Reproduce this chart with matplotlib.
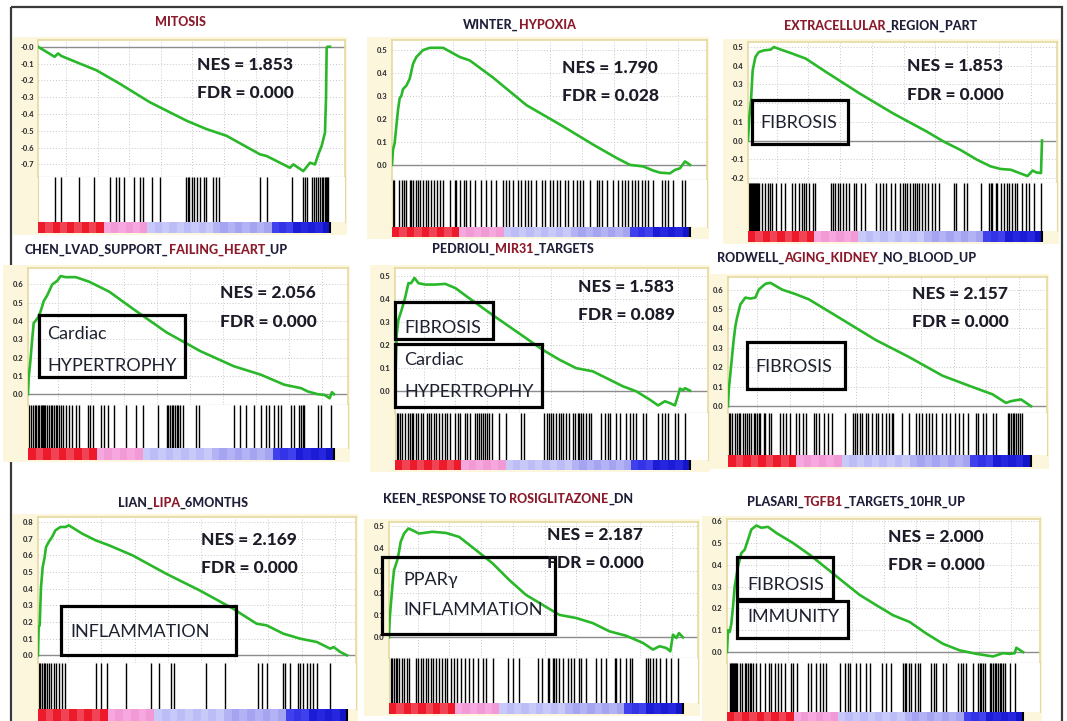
import numpy as np
import matplotlib.pyplot as plt
from matplotlib.colors import ListedColormap
from matplotlib.patches import Rectangle

plt.rcParams['font.family'] = ['Lato', 'DejaVu Sans']

W, H = 1067, 721
fig = plt.figure(figsize=(W / 100, H / 100), dpi=100)

# ---- data: running enrichment score, hit ranks (ranked list length n per panel)
mitosis_n = 875
mitosis_x = [0, 50, 60, 70, 125, 175, 245, 335, 445, 505, 565, 665, 685, 755, 765,
             795, 815, 830, 840, 850, 860, 863, 865, 867, 875]
mitosis_es = [0, -0.06, -0.04, -0.055, -0.10, -0.14, -0.22, -0.33, -0.44, -0.49, -0.53,
              -0.64, -0.65, -0.72, -0.70, -0.74, -0.69, -0.70, -0.64, -0.59, -0.51, -0.31,
              -0.01, 0.0, 0.0]
mitosis_hits = [50, 68, 122, 167, 215, 235, 243, 257, 287, 305, 315, 342, 365, 443, 448,
                453, 460, 467, 475, 485, 497, 503, 525, 533, 542, 665, 685, 760, 795, 800,
                807, 820, 827, 833, 840, 845, 850, 855, 860, 863, 867, 870]

hypoxia_n = 893
hypoxia_x = [0, 3, 8, 18, 23, 28, 33, 43, 53, 63, 73, 93, 113, 153, 203, 233, 303, 403,
             503, 603, 673, 713, 753, 783, 803, 833, 848, 863, 878, 893]
hypoxia_es = [0, 0.066, 0.095, 0.24, 0.29, 0.30, 0.33, 0.345, 0.375, 0.44, 0.47, 0.50,
              0.51, 0.51, 0.47, 0.455, 0.38, 0.26, 0.176, 0.088, 0.03, 0.0, -0.007,
              -0.025, -0.034, -0.037, -0.022, -0.015, 0.015, 0.0]
hypoxia_hits = [3, 6, 21, 31, 36, 43, 53, 58, 63, 71, 78, 85, 93, 101, 108, 118, 125, 135,
                145, 153, 173, 188, 193, 203, 215, 223, 233, 248, 268, 283, 298, 311, 333,
                343, 350, 363, 378, 386, 398, 408, 418, 433, 448, 458, 473, 483, 493, 503,
                518, 528, 543, 553, 563, 573, 593, 613, 621, 628, 643, 663, 678, 688, 698,
                708, 718, 728, 738, 748, 758, 768, 783, 808, 818, 828, 843, 868, 878]

ecm_n = 875
ecm_x = [0, 4, 9, 14, 22, 32, 47, 67, 77, 92, 132, 172, 232, 332, 432, 532, 582, 632,
         682, 722, 752, 782, 832, 847, 857, 872, 875]
ecm_es = [0, 0.128, 0.216, 0.376, 0.447, 0.473, 0.482, 0.486, 0.50, 0.49, 0.465, 0.438,
          0.367, 0.252, 0.145, 0.048, -0.005, -0.05, -0.103, -0.138, -0.152, -0.156,
          -0.19, -0.16, -0.17, -0.174, 0.0]
ecm_hits = [0, 3, 6, 9, 12, 15, 18, 21, 24, 27, 30, 33, 42, 50, 60, 65, 72, 82, 97, 110,
            132, 140, 152, 160, 167, 172, 182, 192, 200, 247, 254, 260, 267, 274, 282, 292,
            302, 314, 322, 337, 347, 382, 392, 402, 412, 427, 437, 452, 462, 467, 472, 482,
            490, 497, 504, 510, 517, 527, 537, 547, 557, 567, 612, 620, 642, 652, 692, 717,
            722, 727, 737, 742, 752, 762, 772, 777, 787, 794, 802, 814, 827, 837, 852, 872]

chen_n = 910
chen_x = [0, 2, 7, 12, 17, 22, 30, 37, 47, 57, 72, 87, 97, 112, 142, 182, 242, 312, 412,
          512, 612, 692, 762, 812, 832, 862, 882, 897, 904, 910]
chen_es = [0, 0.089, 0.18, 0.29, 0.39, 0.40, 0.42, 0.45, 0.51, 0.54, 0.60, 0.62, 0.646,
           0.64, 0.64, 0.615, 0.56, 0.467, 0.338, 0.236, 0.153, 0.107, 0.052, 0.033, 0.015,
           0.0, -0.004, -0.022, 0.011, 0.0]
chen_hits = [4, 10, 15, 20, 24, 30, 34, 39, 42, 45, 49, 52, 57, 62, 67, 72, 77, 82, 87, 92,
             97, 104, 112, 122, 132, 142, 152, 177, 184, 192, 217, 227, 237, 257, 292, 322,
             342, 387, 412, 417, 422, 427, 432, 437, 442, 447, 452, 462, 500, 510, 612, 630,
             647, 672, 692, 707, 717, 732, 742, 752, 782, 792, 807, 812, 817, 822, 862, 872,
             902]

mir31_n = 880
mir31_x = [0, 2, 5, 10, 20, 30, 40, 48, 58, 70, 90, 120, 150, 180, 220, 290, 390, 440, 490,
           540, 590, 640, 680, 720, 760, 785, 805, 820, 835, 845, 850, 860, 865, 880]
mir31_es = [0, 0.10, 0.246, 0.31, 0.355, 0.406, 0.47, 0.47, 0.493, 0.47, 0.464, 0.464,
            0.467, 0.449, 0.406, 0.333, 0.232, 0.181, 0.138, 0.101, 0.087, 0.051, 0.022,
            0.0, -0.036, -0.061, -0.043, -0.051, -0.061, -0.014, 0.012, 0.005, 0.014, 0.003]
mir31_hits = [5, 10, 15, 22, 30, 38, 45, 50, 55, 62, 70, 78, 85, 95, 102, 108, 115, 122,
              130, 140, 148, 155, 165, 180, 188, 195, 208, 215, 225, 240, 245, 250, 258, 262,
              268, 275, 280, 290, 310, 330, 375, 385, 445, 453, 460, 465, 470, 480, 488, 495,
              502, 510, 520, 530, 538, 545, 550, 555, 560, 570, 578, 585, 615, 625, 635, 640,
              660, 670, 690, 700, 710, 720, 740, 750, 785, 795, 805, 815, 835, 845, 865]

kidney_n = 907
kidney_x = [0, 2, 7, 12, 17, 22, 27, 37, 52, 67, 82, 92, 112, 127, 142, 162, 202, 242, 342,
            442, 542, 642, 722, 792, 832, 847, 877, 907]
kidney_es = [0, 0.079, 0.166, 0.254, 0.341, 0.411, 0.455, 0.524, 0.559, 0.554, 0.559, 0.60,
             0.63, 0.635, 0.62, 0.60, 0.577, 0.55, 0.446, 0.341, 0.253, 0.157, 0.105, 0.061,
             0.017, 0.026, 0.035, 0.0]
kidney_hits = [2, 7, 12, 20, 27, 32, 37, 44, 50, 57, 64, 70, 77, 82, 87, 92, 97, 107, 112,
               122, 130, 157, 164, 174, 187, 204, 214, 224, 234, 257, 264, 272, 287, 300, 312,
               350, 374, 380, 387, 394, 402, 412, 420, 430, 442, 450, 462, 474, 482, 490, 495,
               522, 542, 562, 572, 582, 592, 602, 610, 622, 642, 652, 664, 680, 692, 702, 717,
               742, 747, 762, 772, 792, 802, 837, 842, 847, 852, 857, 862, 867, 874, 880]

lipa_n = 922
lipa_x = [0, 2, 5, 9, 14, 19, 24, 32, 42, 52, 67, 82, 92, 132, 172, 212, 282, 382, 482, 582,
          652, 682, 732, 782, 832, 872, 882, 902, 922]
lipa_es = [0, 0.17, 0.18, 0.41, 0.53, 0.58, 0.65, 0.68, 0.71, 0.75, 0.77, 0.77, 0.78, 0.73,
           0.69, 0.66, 0.60, 0.49, 0.39, 0.28, 0.19, 0.18, 0.13, 0.10, 0.08, 0.04, 0.05,
           0.02, 0.0]
lipa_hits = [2, 7, 12, 17, 22, 27, 32, 40, 47, 54, 62, 72, 82, 172, 187, 207, 262, 337,
             362, 397, 407, 502, 557, 657, 667, 682, 732, 737, 752, 775, 782, 792, 802, 812,
             822, 832, 872]

rosi_n = 880
rosi_x = [0, 2, 5, 10, 15, 20, 25, 30, 35, 45, 58, 70, 90, 130, 170, 210, 260, 310, 360,
          410, 460, 510, 560, 610, 660, 710, 760, 790, 810, 830, 842, 850, 860, 868, 880]
rosi_es = [0, 0.079, 0.139, 0.228, 0.303, 0.325, 0.348, 0.385, 0.43, 0.467, 0.49, 0.482,
           0.467, 0.475, 0.47, 0.452, 0.393, 0.333, 0.258, 0.191, 0.146, 0.101, 0.087,
           0.064, 0.027, 0.007, -0.025, -0.055, -0.04, -0.048, -0.063, 0.012, -0.003,
           0.019, 0.0]
rosi_hits = [5, 10, 15, 20, 25, 30, 38, 45, 53, 60, 80, 88, 95, 102, 110, 118, 125, 132,
             142, 150, 160, 168, 175, 185, 195, 205, 215, 228, 240, 250, 265, 280, 290, 310,
             355, 370, 390, 445, 458, 475, 480, 490, 495, 500, 510, 520, 535, 545, 555, 570,
             575, 590, 620, 635, 650, 675, 680, 690, 710, 720, 728, 770, 775, 780, 790, 800,
             810, 830, 845, 865]

tgfb_n = 888
tgfb_x = [0, 3, 8, 13, 18, 23, 33, 43, 53, 63, 73, 88, 103, 123, 148, 198, 248, 298, 348,
          398, 448, 498, 548, 598, 648, 698, 748, 798, 828, 848, 863, 868, 888]
tgfb_es = [0, 0.10, 0.092, 0.13, 0.208, 0.30, 0.392, 0.454, 0.469, 0.515, 0.562, 0.58, 0.57,
           0.574, 0.546, 0.50, 0.446, 0.385, 0.323, 0.262, 0.215, 0.169, 0.138, 0.085,
           0.038, 0.008, -0.008, -0.02, -0.005, -0.008, -0.005, 0.02, 0.0]
tgfb_hits = [8, 11, 14, 17, 20, 23, 26, 29, 38, 46, 53, 58, 63, 68, 73, 78, 88, 100, 113,
             126, 133, 143, 153, 163, 173, 193, 198, 210, 243, 253, 266, 278, 288, 298, 338,
             353, 363, 368, 388, 398, 418, 428, 466, 478, 493, 528, 533, 538, 546, 553, 563,
             573, 578, 613, 620, 628, 648, 658, 693, 703, 708, 716, 738, 753, 758, 763, 768,
             773, 788, 793, 798, 803, 808, 813, 818, 823, 828, 833, 848, 863]

dark = '#1f1f3a'
red = '#8b1a2b'
titles = [
    [('MITOSIS', red)],
    [('WINTER_', dark), ('HYPOXIA', red)],
    [('EXTRACELLULAR', red), ('_REGION_PART', dark)],
    [('CHEN_LVAD_SUPPORT_', dark), ('FAILING_HEART', red), ('_UP', dark)],
    [('PEDRIOLI_', dark), ('MIR31', red), ('_TARGETS', dark)],
    [('RODWELL_', dark), ('AGING_KIDNEY', red), ('_NO_BLOOD_UP', dark)],
    [('LIAN_', dark), ('LIPA', red), ('_6MONTHS', dark)],
    [('KEEN_RESPONSE TO ', dark), ('ROSIGLITAZONE', red), ('_DN', dark)],
    [('PLASARI_', dark), ('TGFB1', red), ('_TARGETS_10HR_UP', dark)],
]
nes = ['1.853', '1.790', '1.853', '2.056', '1.583', '2.157', '2.169', '2.187', '2.000']
fdr = ['0.000', '0.028', '0.000', '0.000', '0.089', '0.000', '0.000', '0.000', '0.000']
yticks = [np.arange(-0.7, 0.01, 0.1), np.arange(0, 0.51, 0.1), np.arange(-0.2, 0.51, 0.1),
          np.arange(0, 0.61, 0.1), np.arange(0, 0.51, 0.1), np.arange(0, 0.61, 0.1),
          np.arange(0, 0.81, 0.1), np.arange(0, 0.51, 0.1), np.arange(0, 0.61, 0.1)]

series = [
    (mitosis_n, mitosis_x, mitosis_es, mitosis_hits),
    (hypoxia_n, hypoxia_x, hypoxia_es, hypoxia_hits),
    (ecm_n, ecm_x, ecm_es, ecm_hits),
    (chen_n, chen_x, chen_es, chen_hits),
    (mir31_n, mir31_x, mir31_es, mir31_hits),
    (kidney_n, kidney_x, kidney_es, kidney_hits),
    (lipa_n, lipa_x, lipa_es, lipa_hits),
    (rosi_n, rosi_x, rosi_es, rosi_hits),
    (tgfb_n, tgfb_x, tgfb_es, tgfb_hits),
]

# ---- layout in pixels: left, right, top, es bottom, hits bottom, strip bottom, strip end, ylim
layout = [
    (38, 345, 40, 177, 222, 233, 330, -0.775, 0.04),
    (392, 707, 40, 180, 227, 237, 690, -0.066, 0.544),
    (748, 1057, 42, 183, 231, 242, 1042, -0.227, 0.527),
    (28, 348, 268, 405, 448, 460, 334, -0.059, 0.69),
    (395, 708, 268, 413, 460, 470, 690, -0.094, 0.536),
    (728, 1047, 277, 413, 455, 467, 1031, -0.035, 0.665),
    (38, 356, 517, 663, 709, 721, 347, -0.046, 0.83),
    (389, 698, 522, 658, 703, 714, 683, -0.093, 0.519),
    (727, 1040, 519, 663, 712, 721, 1023, -0.05, 0.61),
]
title_pos = [(155, 22), (463, 25), (784, 26), (25, 250), (432, 249), (717, 258),
             (118, 503), (383, 499), (747, 502)]
stat_pos = [(197, 65, 93), (562, 68, 96), (907, 66, 95), (220, 293, 322), (578, 287, 315),
            (912, 294, 322), (201, 540, 568), (547, 535, 563), (888, 537, 565)]
boxes = [(752, 100, 848, 144), (39, 315, 185, 377), (395, 302, 493, 339),
         (395, 344, 542, 407), (747, 342, 845, 389), (61, 606, 236, 655),
         (382, 557, 555, 634), (737, 557, 833, 599), (737, 601, 848, 638)]
box_text = [(760, 123, 'FIBROSIS'), (47, 334, 'Cardiac'), (47, 366, 'HYPERTROPHY'),
            (404, 328, 'FIBROSIS'), (404, 360, 'Cardiac'), (404, 392, 'HYPERTROPHY'),
            (755, 367, 'FIBROSIS'), (70, 632, 'INFLAMMATION'), (403, 580, 'PPARγ'),
            (403, 610, 'INFLAMMATION'), (747, 585, 'FIBROSIS'), (747, 617, 'IMMUNITY')]

strip_colors = (['#ec1a2a', '#f04454'] * 4 + ['#ec1a2a'] +
                ['#f6a8de', '#f29ad6'] * 3 +
                ['#c8c8f9', '#bcbcf6'] * 4 + ['#c8c8f9'] +
                ['#b2b2f4', '#a4a4f1'] * 4 +
                ['#4040ec', '#3434e6', '#4040ec'] +
                ['#1c1cd6', '#2626de'] * 2 + ['#1414c8'])


def rect(l, t, r, b):
    return [l / W, 1 - b / H, (r - l) / W, (b - t) / H]


bg = fig.add_axes([0, 0, 1, 1], zorder=0)
bg.set_xlim(0, W)
bg.set_ylim(H, 0)
bg.axis('off')
bg.add_patch(Rectangle((11, 7), 1051, 730, fill=False, ec='#3a3a3a', lw=1.6))

for i, (n, xs, es, hits) in enumerate(series):
    L, R, T, B1, B2, B3, SR, ylo, yhi = layout[i]
    xmax = n * (R - L) / (SR - L)
    bg.add_patch(Rectangle((L - 25, T - 3), R - L + 27, B3 - T + 5, fc='#fbf6dc',
                           ec='none'))

    ax = fig.add_axes(rect(L, T, R, B1), zorder=1)
    ax.plot(xs, es, color='#2ab82a', lw=1.9, zorder=3)
    ax.axhline(0, color='#8c8c8c', lw=1.0, zorder=2)
    ax.set_xlim(0, xmax)
    ax.set_ylim(ylo, yhi)
    ax.set_yticks(yticks[i])
    ax.set_yticklabels([f'{v:.1f}' for v in yticks[i]], fontsize=5.5,
                       fontweight='black', color='#333333')
    ax.set_xticks(n * (0.097 + 0.108 * np.arange(9)))
    ax.tick_params(length=0, pad=3, labelbottom=False)
    ax.grid(True, color='#c8c8c8', lw=0.7, ls=(0, (1, 2)))
    for s in ['left', 'top', 'right']:
        ax.spines[s].set_color('#e6d9a0')
        ax.spines[s].set_linewidth(1.2)
    ax.spines['bottom'].set_color('#909090')

    hx = fig.add_axes(rect(L, B1, R, B2), zorder=1)
    hx.vlines(hits, 0, 1, color='black', lw=1.0)
    hx.set_xlim(0, xmax)
    hx.set_ylim(0, 1)
    hx.set_xticks([])
    hx.set_yticks([])
    for s in ['left', 'right']:
        hx.spines[s].set_color('#e6d9a0')
    hx.spines['top'].set_visible(False)
    hx.spines['bottom'].set_visible(False)

    sx = fig.add_axes(rect(L, B2, R, B3), zorder=1)
    sx.imshow(np.arange(len(strip_colors))[None, :], cmap=ListedColormap(strip_colors),
              aspect='auto', extent=(0, n, 0, 1), interpolation='nearest')
    sx.axvline(n, color='black', lw=1.5)
    sx.set_xlim(0, xmax)
    sx.set_ylim(0, 1)
    sx.axis('off')

    # title with coloured pieces
    tx, ty = title_pos[i]
    parts = titles[i]
    t = bg.text(tx, ty, parts[0][0], color=parts[0][1], fontsize=9, fontweight='black',
                ha='left', va='center')
    for s, c in parts[1:]:
        t = bg.annotate(s, xy=(1, 0), xycoords=t, color=c, fontsize=9,
                        fontweight='black', ha='left', va='bottom')

top = fig.add_axes([0, 0, 1, 1], zorder=5)
top.set_xlim(0, W)
top.set_ylim(H, 0)
top.axis('off')
top.patch.set_alpha(0)

for i in range(9):
    sx_, y1, y2 = stat_pos[i]
    top.text(sx_, y1, f'NES = {nes[i]}', fontsize=12.5, fontweight='black',
             color='#1c1c28', ha='left', va='center')
    top.text(sx_, y2, f'FDR = {fdr[i]}', fontsize=12.5, fontweight='black',
             color='#1c1c28', ha='left', va='center')

for l, t_, r, b in boxes:
    top.add_patch(Rectangle((l, t_), r - l, b - t_, fill=False, ec='black', lw=2.3))
for x, y, s in box_text:
    top.text(x, y, s, fontsize=13, color='#1e2230', ha='left', va='center')

fig.savefig('out.png', dpi=100)
